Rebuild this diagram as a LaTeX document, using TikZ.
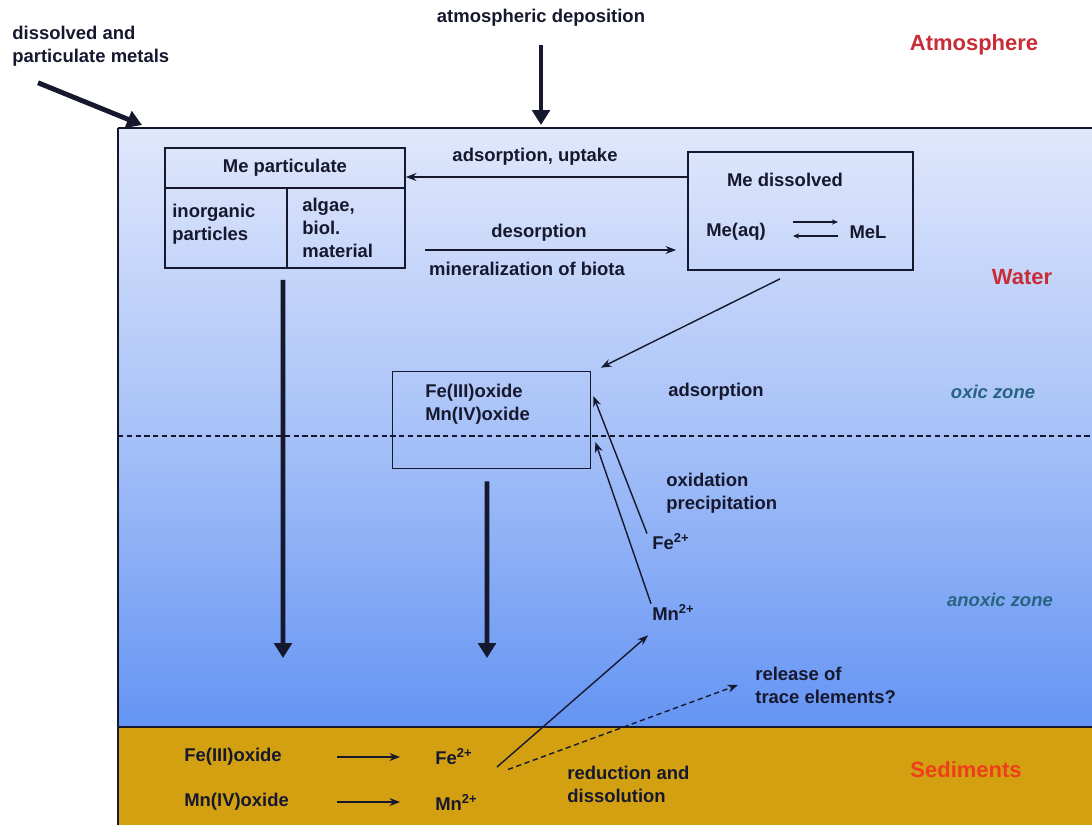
\documentclass[tikz,border=0pt]{standalone}
\usepackage{fontspec}
\setmainfont{Liberation Sans}
\usetikzlibrary{arrows.meta}

\definecolor{watertop}{RGB}{224,231,251}
\definecolor{watermid}{RGB}{168,194,248}
\definecolor{waterbot}{RGB}{100,148,243}
\definecolor{sediment}{RGB}{211,160,18}
\definecolor{ink}{RGB}{22,24,46}
\definecolor{zoneblue}{RGB}{38,100,128}
\definecolor{layerred}{RGB}{200,45,55}
\definecolor{sedred}{RGB}{238,62,28}

\tikzset{
  txt/.style={font=\fontsize{10.5}{13}\selectfont\bfseries, text=ink, inner sep=0pt, align=left},
  layer/.style={font=\fontsize{12.5}{15}\selectfont\bfseries, inner sep=0pt},
  zone/.style={font=\fontsize{10.5}{13}\selectfont\bfseries\itshape, text=zoneblue, inner sep=0pt},
  box/.style={draw=ink, line width=1pt, inner sep=0pt},
  flux/.style={-{Stealth[length=6pt,width=4.5pt]}, draw=ink, line width=0.8pt},
  eqflux/.style={-{Stealth[length=3.5pt,width=3pt]}, draw=ink, line width=0.7pt},
  sink/.style={-{Triangle[length=8.5pt,width=10pt]}, draw=ink, line width=2.8pt},
}

\begin{document}
\begin{tikzpicture}[x=0.02cm, y=-0.02cm]
  \useasboundingbox (0,0) rectangle (1092,825);

  % water column and sediment
  \shade[top color=watertop, bottom color=waterbot, middle color=watermid] (118,128) rectangle (1092,727);
  \fill[sediment] (118,727) rectangle (1092,825);
  \draw[ink, line width=1.6pt] (118,128) -- (1092,128);
  \draw[ink, line width=1.6pt] (118,727) -- (1092,727);
  \draw[ink, line width=0.8pt] (118,128) -- (118,825);
  \draw[ink, line width=0.9pt, dash pattern=on 3pt off 2pt] (118,436) -- (1092,436);

  % layer and zone labels
  \node[layer, text=layerred] (atm) at (974,45) {Atmosphere};
  \node[layer, text=layerred] (wat) at (1022,277) {Water};
  \node[layer, text=sedred] (sed) at (966,770) {Sediments};
  \node[zone] (oxic) at (993,392) {oxic zone};
  \node[zone] (anoxic) at (1000,600) {anoxic zone};

  % inputs
  \node[txt, anchor=north west] (inflow) at (12,26) {dissolved and\\particulate metals};
  \node[txt] (atmo) at (541,18) {atmospheric deposition};
  \coordinate (corner) at (142,125);
  \coordinate (surf) at (541,125);
  \draw[sink] ([shift={(0.52cm,-0.32cm)}]inflow.south west) -- (corner);
  \draw[sink] ([yshift=-0.36cm]atmo.south) -- (surf);

  % particulate metal
  \node[box, minimum width=4.8cm, minimum height=2.4cm] (mp) at (285,208) {};
  \draw[ink, line width=1pt] ([yshift=0.4cm]mp.west) -- ([yshift=0.4cm]mp.east);
  \draw[ink, line width=1pt] ([xshift=0.04cm,yshift=0.4cm]mp.center) -- ([xshift=0.04cm]mp.south);
  \node[txt] (mphead) at (285,168) {Me particulate};
  \node[txt, anchor=west] (inorg) at (172,224) {inorganic\\particles};
  \node[txt, anchor=west] (bio) at (302,228) {algae,\\biol.\\material};

  % dissolved metal
  \node[box, minimum width=4.5cm, minimum height=2.36cm] (md) at (800.5,211) {};
  \node[txt] (mdhead) at (785,180) {Me dissolved};
  \node[txt] (aq) at (736,232) {Me(aq)};
  \node[txt] (mel) at (868,232) {MeL};
  \coordinate (eqL) at (793,229);
  \coordinate (eqR) at (838,229);
  \draw[eqflux] ([yshift=0.14cm]eqL) -- ([yshift=0.14cm]eqR);
  \draw[eqflux] ([yshift=-0.14cm]eqR) -- ([yshift=-0.14cm]eqL);

  % exchange between the two
  \node[txt] (adup) at (535,157) {adsorption, uptake};
  \coordinate (au) at ([yshift=0.68cm]md.west);
  \draw[flux] (au) -- (mp.east |- au);
  \node[txt] (des) at (539,233) {desorption};
  \node[txt] (mineral) at (527,269) {mineralization of biota};
  \coordinate (dsA) at (425,250);
  \draw[flux, shorten >=0.22cm] (dsA) -- (md.west |- dsA);

  % Fe/Mn oxides
  \node[box, minimum width=3.96cm, minimum height=1.94cm] (ox) at (491.5,420) {};
  \node[txt, anchor=west] (oxides) at (425,404) {Fe(III)oxide\\Mn(IV)oxide};
  \draw[flux] ([xshift=-0.41cm,yshift=-0.16cm]md.south) -- ([xshift=0.19cm,yshift=0.06cm]ox.north east);
  \node[txt, anchor=west] (ads) at (668,392) {adsorption};
  \node[txt, anchor=west] (oxid) at (666,493) {oxidation\\precipitation};
  \node[txt, anchor=west] (fe) at (652,542) {Fe\textsuperscript{2+}};
  \node[txt, anchor=west] (mn) at (652,612) {Mn\textsuperscript{2+}};
  \draw[flux] ([xshift=-0.1cm]fe.north west) -- ([xshift=0.04cm,yshift=0.48cm]ox.east);
  \draw[flux] ([xshift=-0.02cm]mn.north west) -- ([xshift=0.08cm,yshift=-0.44cm]ox.east);

  % settling
  \coordinate (floorA) at (283,658);
  \coordinate (floorB) at (487,658);
  \draw[sink] ([xshift=-0.04cm,yshift=-0.22cm]mp.south) -- (floorA);
  \draw[sink] ([xshift=-0.09cm,yshift=-0.24cm]ox.south) -- (floorB);

  % sediment reactions
  \node[txt, anchor=west] (feox) at (184,757) {Fe(III)oxide};
  \node[txt, anchor=west] (mnox) at (184,802) {Mn(IV)oxide};
  \node[txt, anchor=west] (fesed) at (435,757) {Fe\textsuperscript{2+}};
  \node[txt, anchor=west] (mnsed) at (435,802) {Mn\textsuperscript{2+}};
  \draw[flux] ([xshift=-1.96cm]fesed.west) -- ([xshift=-0.7cm]fesed.west);
  \draw[flux] ([xshift=-1.96cm]mnsed.west) -- ([xshift=-0.7cm]mnsed.west);
  \node[txt, anchor=west] (reddis) at (567,784) {reduction and\\dissolution};

  % release from sediment
  \node[txt, anchor=west] (release) at (755,685) {release of\\trace elements?};
  \coordinate (seep) at (497,767);
  \draw[flux] (seep) -- ([xshift=-0.08cm,yshift=-0.3cm]mn.south west);
  \draw[flux, dash pattern=on 3pt off 2pt] ([xshift=0.22cm,yshift=-0.05cm]seep) -- ([xshift=-0.34cm]release.west);
\end{tikzpicture}
\end{document}
